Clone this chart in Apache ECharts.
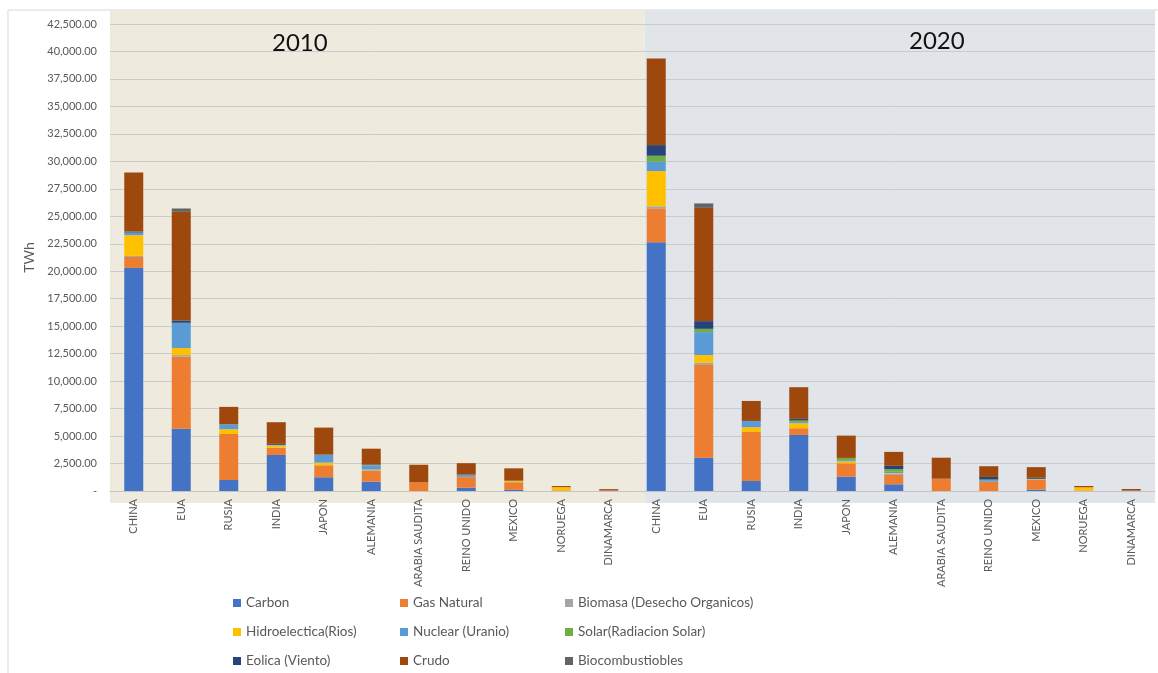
<!DOCTYPE html>
<html><head><meta charset="utf-8">
<script src="https://cdn.jsdelivr.net/npm/echarts@6/dist/echarts.min.js"></script>
<style>html,body{margin:0;padding:0;background:#fff}#c{width:1158px;height:673px}</style>
</head><body><div id="c"></div>
<script>
const countries = ['CHINA','EUA','RUSIA','INDIA','JAPON','ALEMANIA','ARABIA SAUDITA','REINO UNIDO','MEXICO','NORUEGA','DINAMARCA'];
const categories = countries.concat(countries);
const periods = ['2010','2020'];
// values: first 11 = 2010, last 11 = 2020 (TWh)
const carbon   = [20300,5670,1000,3280,1250,850,0,300,100,0,0,   22630,3030,910,5100,1300,610,0,0,120,0,0];
const gas      = [1000,6550,4190,660,1090,1000,790,970,700,50,70, 3090,8430,4460,610,1220,850,1120,820,880,40,30];
const biomasa  = [100,150,0,0,0,50,0,0,0,0,0,                     180,210,0,0,0,120,0,0,0,0,0];
const hidro    = [1880,640,430,210,240,50,0,20,100,300,0,         3210,700,430,455,180,50,0,20,60,300,0];
const nuclear  = [240,2300,455,50,730,370,0,180,40,0,0,           850,2090,575,100,100,120,0,150,30,0,0];
const solar    = [0,0,0,0,0,40,0,0,0,0,0,                         550,300,0,150,210,240,0,50,20,0,0];
const eolica   = [90,210,0,90,0,60,0,30,0,0,20,                   970,700,0,150,0,300,0,240,90,0,20];
const crudo    = [5370,9890,1580,1970,2460,1430,1600,1030,1120,100,80, 7890,10310,1820,2880,2030,1270,1910,975,970,115,130];
const biocomb  = [0,300,0,0,0,0,0,0,0,0,0,                        0,400,0,0,0,0,0,0,0,0,0];
const yTicks = {min:0, max:42500, interval:2500};

const seriesDefs = [
  ['Carbon', carbon, '#4472C4'],
  ['Gas Natural', gas, '#ED7D31'],
  ['Biomasa (Desecho Organicos)', biomasa, '#A5A5A5'],
  ['Hidroelectica(Rios)', hidro, '#FFC000'],
  ['Nuclear (Uranio)', nuclear, '#5B9BD5'],
  ['Solar(Radiacion Solar)', solar, '#70AD47'],
  ['Eolica (Viento)', eolica, '#264478'],
  ['Crudo', crudo, '#9E480E'],
  ['Biocombustiobles', biocomb, '#636363']
];
const FONT = 'Lato';
const txt = '#595959';
const chart = echarts.init(document.getElementById('c'), null, {renderer:'canvas'});
function legendCol(names, left){
  return {data:names, orient:'vertical', left:left, top:593, height:110, padding:0,
    itemWidth:8, itemHeight:8, itemGap:9,
    icon:'rect', selectedMode:false,
    textStyle:{fontFamily:FONT, fontSize:13.5, color:txt, lineHeight:20}};
}
const option = {
  animation:false,
  textStyle:{fontFamily:FONT},
  title:[
    {text:periods[0], left:267, top:26, textStyle:{fontFamily:FONT, fontSize:24, fontWeight:'normal', color:'#111'}},
    {text:periods[1], left:904, top:24, textStyle:{fontFamily:FONT, fontSize:24, fontWeight:'normal', color:'#111'}}
  ],
  grid:{left:110, right:3, top:24, bottom:182},
  legend:[
    legendCol(['Carbon','Hidroelectica(Rios)','Eolica (Viento)'], 233),
    legendCol(['Gas Natural','Nuclear (Uranio)','Crudo'], 400),
    legendCol(['Biomasa (Desecho Organicos)','Solar(Radiacion Solar)','Biocombustiobles'], 565)
  ],
  xAxis:{type:'category', data:categories,
    axisLine:{lineStyle:{color:'#c4c4c4'}}, axisTick:{show:false},
    axisLabel:{interval:0, rotate:90, fontSize:11, color:txt, margin:8, fontFamily:FONT}},
  yAxis:{type:'value', min:yTicks.min, max:yTicks.max, interval:yTicks.interval,
    name:'TWh', nameLocation:'middle', nameGap:63, nameRotate:90,
    nameTextStyle:{fontSize:14, color:txt, fontFamily:FONT},
    axisLine:{show:false}, axisTick:{show:false},
    splitLine:{lineStyle:{color:'#cbcbcb', width:1}},
    axisLabel:{fontSize:11, color:txt, margin:13, fontFamily:FONT,
      formatter:v => v===0 ? '-' : v.toLocaleString('en-US',{minimumFractionDigits:2, maximumFractionDigits:2})}},
  series: seriesDefs.map(([name,data,color]) => ({
    name, type:'bar', stack:'total', data, barWidth:19,
    itemStyle:{color}
  }))
};
chart.setOption(option);
// background panels for the two periods, placed from the axes
const c0 = chart.convertToPixel({xAxisIndex:0}, 0);
const c1 = chart.convertToPixel({xAxisIndex:0}, 1);
const bw = c1 - c0;
const c11 = chart.convertToPixel({xAxisIndex:0}, 11);
const cLast = chart.convertToPixel({xAxisIndex:0}, categories.length-1);
const yTop = chart.convertToPixel({yAxisIndex:0}, yTicks.max) - 14;
const yBot = chart.convertToPixel({yAxisIndex:0}, 0) + 12;
const xL = c0 - bw/2, xS = c11 - bw*0.25, xR = cLast + bw/2;
chart.setOption({graphic:[
  {type:'rect', z:-10, silent:true, shape:{x:8, y:10, width:1160, height:672}, style:{fill:'#fff', stroke:'#d9d9d9', lineWidth:1}},
  {type:'rect', z:-9, silent:true, shape:{x:xL, y:yTop, width:xS-xL, height:yBot-yTop}, style:{fill:'#EEEADD'}},
  {type:'rect', z:-9, silent:true, shape:{x:xS, y:yTop, width:xR-xS, height:yBot-yTop}, style:{fill:'#E1E5EA'}}
]});
</script></body></html>
